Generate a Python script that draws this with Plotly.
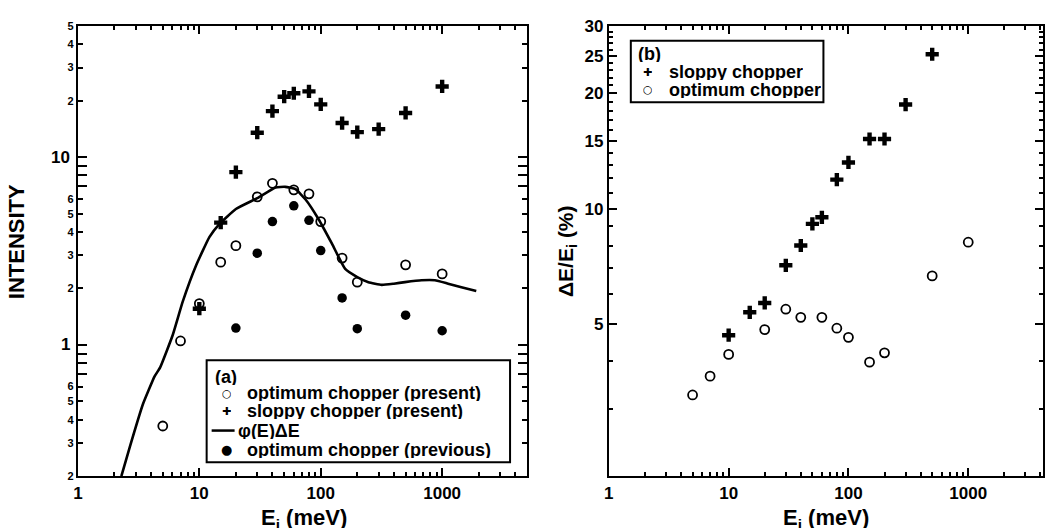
import plotly.graph_objects as go
import math

# ---------------- data ----------------
# panel (a): intensity vs incident energy
E_opt_present = [5, 7, 10, 15, 20, 30, 40, 60, 80, 100, 150, 200, 500, 1000]
I_opt_present = [0.37, 1.05, 1.66, 2.76, 3.38, 6.15, 7.26, 6.7, 6.38, 4.54, 2.9, 2.16, 2.67, 2.39]

E_sloppy_present = [10, 15, 20, 30, 40, 50, 60, 80, 100, 150, 200, 300, 500, 1000]
I_sloppy_present = [1.56, 4.48, 8.33, 13.5, 17.6, 21.0, 21.9, 22.4, 19.1, 15.2, 13.6, 14.1, 17.2, 23.8]

E_opt_previous = [20, 30, 40, 60, 80, 100, 150, 200, 500, 1000]
I_opt_previous = [1.23, 3.08, 4.54, 5.51, 4.61, 3.18, 1.78, 1.22, 1.44, 1.19]

E_phi = [2.28, 2.67, 3.43, 4.28, 4.76, 6.04, 7.3, 9.4, 12.1, 14.6, 20, 30, 42.5, 51, 62, 75,
         96, 124, 159, 200, 247, 318, 400, 494, 676, 871, 1120, 1440, 1910]
I_phi = [0.2, 0.285, 0.483, 0.68, 0.76, 1.13, 1.70, 2.65, 3.75, 4.4, 5.3, 6.05, 6.9, 6.95, 6.75, 5.95,
         4.67, 3.45, 2.54, 2.3, 2.16, 2.09, 2.12, 2.16, 2.21, 2.21, 2.12, 2.03, 1.94]

# panel (b): resolution dE/Ei (%)
E_sloppy_b = [10, 15, 20, 30, 40, 50, 60, 80, 100, 150, 200, 300, 500]
R_sloppy_b = [4.67, 5.36, 5.67, 7.11, 8.01, 9.12, 9.49, 11.9, 13.2, 15.2, 15.2, 18.7, 25.3]
E_opt_b = [5, 7, 10, 20, 30, 40, 60, 80, 100, 150, 200, 500, 1000]
R_opt_b = [3.26, 3.65, 4.16, 4.83, 5.46, 5.2, 5.2, 4.87, 4.61, 3.97, 4.2, 6.67, 8.17]

# tick definitions
x_major = [1, 10, 100, 1000]
x_major_text = ["1", "10", "100", "1000"]
x_minor = [m * d for d in (1, 10, 100, 1000) for m in range(2, 10) if m * d <= 5000]

ya_vals = [0.2, 0.3, 0.4, 0.5, 0.6, 2, 3, 4, 5, 6, 20, 30, 40, 50]
ya_text = ["2", "3", "4", "5", "6", "2", "3", "4", "5", "6", "2", "3", "4", "5"]
ya_minor = [0.7, 0.8, 0.9, 7, 8, 9]
ya_decades = [1, 10]
ya_decade_text = ["1", "10"]

yb_major = [5, 10, 15, 20, 25, 30]
yb_minor = [v for v in range(3, 30) if v not in yb_major]

W, H = 1055, 528
ML, MR, MT, MB = 30, 10, 15, 30
FONT = "Liberation Sans, Arial, Helvetica, sans-serif"


def px(x):
    return (x - ML) / (W - ML - MR)


def py(y):
    return 1 - (y - MT) / (H - MT - MB)


fig = go.Figure()

mk_open = dict(symbol="circle-open", size=9, color="black", line=dict(width=1.8, color="black"))
mk_fill = dict(symbol="circle", size=9.5, color="black")
mk_plus = dict(symbol="cross", size=11, color="black", line=dict(width=0))

fig.add_trace(go.Scatter(x=E_phi, y=I_phi, mode="lines", line=dict(color="black", width=2.6, shape="spline", smoothing=0.4),
                         xaxis="x", yaxis="y", name="phi(E)dE"))
fig.add_trace(go.Scatter(x=E_opt_present, y=I_opt_present, mode="markers", marker=mk_open, xaxis="x", yaxis="y",
                         name="optimum chopper (present)"))
fig.add_trace(go.Scatter(x=E_sloppy_present, y=I_sloppy_present, mode="markers", marker=mk_plus, xaxis="x", yaxis="y",
                         name="sloppy chopper (present)"))
fig.add_trace(go.Scatter(x=E_opt_previous, y=I_opt_previous, mode="markers", marker=mk_fill, xaxis="x", yaxis="y",
                         name="optimum chopper (previous)"))

fig.add_trace(go.Scatter(x=E_sloppy_b, y=R_sloppy_b, mode="markers", marker=mk_plus, xaxis="x2", yaxis="y2",
                         name="sloppy chopper"))
fig.add_trace(go.Scatter(x=E_opt_b, y=R_opt_b, mode="markers", marker=mk_open, xaxis="x2", yaxis="y2",
                         name="optimum chopper"))

tickfont = dict(family=FONT, size=17, color="black", weight="bold")
small_tickfont = dict(family=FONT, size=11, color="black", weight="bold")
ydom = [py(476), py(22)]
xr = [0, math.log10(5000)]
# right panel frame ends at the paper edge (x = W - MR); keep the same pixels per decade
xr2 = [0, math.log10(5000) * (W - MR - 610) / (1054 - 610)]
yra = [math.log10(0.2), math.log10(50)]

common = dict(type="log", showgrid=False, zeroline=False, showline=True, linecolor="black", linewidth=2,
              ticks="inside", tickcolor="black", tickwidth=2, mirror="ticks")
minor_common = dict(tickmode="array", ticks="inside", ticklen=4, tickwidth=1.5, tickcolor="black", showgrid=False)

fig.update_layout(
    width=W, height=H, autosize=False,
    margin=dict(l=ML, r=MR, t=MT, b=MB),
    paper_bgcolor="white", plot_bgcolor="white",
    showlegend=False,
    xaxis=dict(domain=[px(78), px(528)], range=xr, anchor="y",
               tickmode="array", tickvals=x_major, ticktext=x_major_text, ticklen=8, tickfont=tickfont,
               minor=dict(tickvals=x_minor, **minor_common),
               **common),
    yaxis=dict(domain=ydom, range=yra, anchor="x",
               tickmode="array", tickvals=ya_vals, ticktext=ya_text, ticklen=5, tickfont=small_tickfont,
               minor=dict(tickvals=ya_minor + ya_decades, ticks="inside", ticklen=9, tickwidth=2,
                          tickcolor="black", showgrid=False, tickmode="array"),
               **common),
    xaxis2=dict(domain=[px(610), 1.0], range=xr2, anchor="y2",
                tickmode="array", tickvals=x_major, ticktext=x_major_text, ticklen=8, tickfont=tickfont,
                minor=dict(tickvals=x_minor, **minor_common),
                **common),
    yaxis2=dict(domain=ydom, range=[math.log10(2), math.log10(30)], anchor="x2",
                tickmode="array", tickvals=yb_major, ticktext=[str(v) for v in yb_major], ticklen=8,
                tickfont=tickfont,
                minor=dict(tickvals=yb_minor, **minor_common),
                **common),
)

lab = dict(family=FONT, size=18, color="black", weight="bold")
sym = dict(family="DejaVu Sans", size=11, color="black", weight="bold")
ann = []


def text(x, y, t, font=lab, xanchor="left", angle=0, h=None):
    a = dict(x=px(x), y=py(y), xref="paper", yref="paper", text=t, showarrow=False,
             xanchor=xanchor, yanchor="middle", font=font, textangle=angle)
    if h:
        a["height"] = h
    ann.append(a)


# large decade labels of the left intensity axis (placed on the y scale)
for v, t in zip(ya_decades, ya_decade_text):
    ann.append(dict(x=px(72), y=math.log10(v), xref="paper", yref="y", text=t, showarrow=False,
                    xanchor="right", yanchor="middle", font=tickfont))

# axis titles
title_font = dict(family=FONT, size=22, color="black", weight="bold")
text(16, 240, "INTENSITY", title_font, "center", -90)
text(305, 519, "E<sub>i</sub> (meV)", title_font, "center")
text(568, 249, "ΔE/E<sub>i</sub> (%)", dict(family=FONT, size=21, color="black", weight="bold"), "center", -90)
text(828, 519, "E<sub>i</sub> (meV)", title_font, "center")

# legend (a)
text(213, 375, "(a)", h=17)
text(227, 392, "○", sym, "center", h=14)
text(245, 392, "optimum chopper (present)", h=17)
text(227, 410, "✚", sym, "center", h=14)
text(245, 410, "sloppy chopper (present)", h=17)
text(236, 430, "φ(E)ΔE", h=17)
text(227, 449, "●", dict(family="DejaVu Sans", size=13, color="black"), "center", h=14)
text(245, 449, "optimum chopper (previous)", h=17)

# legend (b)
text(637, 50, "(b)", h=17)
text(649, 68, "✚", sym, "center", h=14)
text(668, 68, "sloppy chopper", h=17)
text(649, 86, "○", sym, "center", h=14)
text(668, 86, "optimum chopper", h=17)

fig.update_layout(annotations=ann)

shapes = [
    dict(type="rect", xref="paper", yref="paper", x0=px(207), x1=px(511), y0=py(462), y1=py(359),
         line=dict(color="black", width=2), fillcolor="white", layer="above"),
    dict(type="line", xref="paper", yref="paper", x0=px(212), x1=px(235), y0=py(430), y1=py(430),
         line=dict(color="black", width=2.5)),
    dict(type="rect", xref="paper", yref="paper", x0=px(632), x1=px(825), y0=py(99), y1=py(37),
         line=dict(color="black", width=2), fillcolor="white", layer="above"),
]
fig.update_layout(shapes=shapes)

fig.write_html("out.html")
